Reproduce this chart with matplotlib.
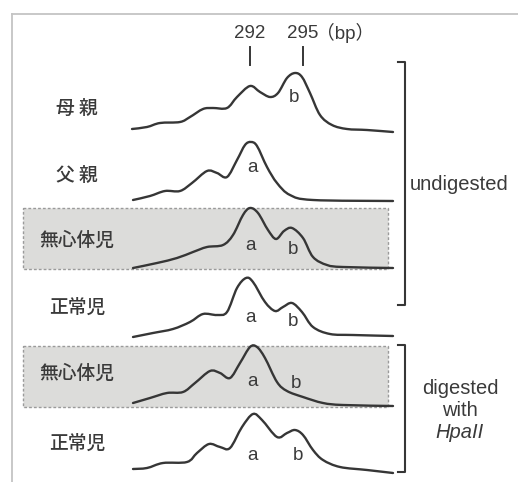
import numpy as np
import matplotlib
matplotlib.use("Agg")
import matplotlib.pyplot as plt
from matplotlib.patches import Rectangle, PathPatch
from matplotlib.path import Path

plt.rcParams['font.family'] = ['Liberation Sans', 'Noto Sans CJK JP', 'DejaVu Sans']

# sample labels (top to bottom)
samples = ['母 親', '父 親', '無心体児', '正常児', '無心体児', '正常児']
shaded = [False, False, True, False, True, False]

# traces: x position and signal height above baseline
x1 = [132, 147, 160, 180, 190, 203, 213, 227, 237, 250, 260, 270, 278, 287, 295, 302, 310, 320, 332, 347, 367, 393]
h1 = [3, 5, 9, 10, 15, 23, 24, 24, 35, 46, 40, 35, 39, 54, 59, 55, 39, 17, 7, 3, 2, 0]

x2 = [133, 150, 165, 180, 192, 207, 217, 227, 237, 245, 251, 257, 267, 277, 290, 313, 393]
h2 = [1, 5, 10, 10, 18, 30, 28, 24, 41, 56, 59, 55, 34, 18, 6, 1, 0]

x3 = [133, 157, 177, 193, 207, 223, 233, 243, 250, 258, 268, 276, 284, 292, 303, 313, 327, 343, 393]
h3 = [0, 5, 10, 16, 21, 23, 33, 53, 60, 55, 38, 29, 37, 40, 30, 11, 3, 1, 0]

x4 = [133, 153, 173, 190, 203, 217, 227, 237, 246, 253, 265, 275, 283, 292, 302, 313, 330, 353, 393]
h4 = [0, 4, 8, 15, 23, 22, 25, 49, 59, 55, 35, 26, 30, 34, 25, 10, 3, 2, 1]

x5 = [133, 150, 167, 183, 195, 210, 220, 230, 240, 250, 257, 265, 277, 287, 303, 323, 343, 393]
h5 = [3, 8, 13, 14, 23, 35, 33, 28, 43, 59, 59, 48, 24, 15, 9, 3, 1, 0]

x6 = [133, 147, 163, 187, 197, 209, 220, 230, 242, 253, 262, 277, 287, 295, 303, 313, 323, 340, 367, 393]
h6 = [4, 5, 10, 11, 20, 29, 26, 25, 46, 59, 53, 36, 40, 43, 38, 23, 13, 6, 3, 0]

traces = [(x1, h1), (x2, h2), (x3, h3), (x4, h4), (x5, h5), (x6, h6)]

# peak labels (a / b) per trace: (letter, x, height above baseline)
peak_labels = [
    [('b', 294, 35)],
    [('a', 252, 34)],
    [('a', 250, 22), ('b', 293, 18)],
    [('a', 250, 19), ('b', 293, 15)],
    [('a', 252, 24), ('b', 296, 23)],
    [('a', 252, 18), ('b', 298, 18)],
]

marker_bp = ['292', '295']
marker_x = [250, 303]

# layout (pixel coordinates)
baselines = [132, 201, 268, 337, 406, 473]
label_y = [108, 175, 240, 307, 373, 443]

fig = plt.figure(figsize=(5.18, 4.82), dpi=100)
ax = fig.add_axes([0, 0, 1, 1])
ax.set_xlim(0, 518)
ax.set_ylim(482, 0)
ax.axis('off')

line_c = '#363636'
text_c = '#3a3a3a'


def smooth_path(xs, ys):
    # catmull-rom through the read points, drawn as cubic bezier segments
    p = np.column_stack([xs, ys]).astype(float)
    p = np.vstack([p[0], p, p[-1]])
    verts = [p[1]]
    codes = [Path.MOVETO]
    for i in range(1, len(p) - 2):
        c1 = p[i] + (p[i + 1] - p[i - 1]) / 6
        c2 = p[i + 1] - (p[i + 2] - p[i]) / 6
        verts += [c1, c2, p[i + 1]]
        codes += [Path.CURVE4] * 3
    return Path(verts, codes)


# outer frame (top and left only)
ax.plot([12, 518], [14, 14], color='#c4c4c4', lw=1.3)
ax.plot([12, 12], [14, 482], color='#c4c4c4', lw=1.3)

# shaded boxes
for i, sh in enumerate(shaded):
    if sh:
        top = baselines[i] - 60
        bot = baselines[i] + 1
        ax.add_patch(Rectangle((23, top), 365, bot - top, facecolor='#dcdcda',
                               edgecolor='#9a9a9a', lw=1.0, ls=(0, (2, 1.5)), zorder=1))

# traces
for i, (xs, hs) in enumerate(traces):
    ys = baselines[i] - np.array(hs)
    ax.add_patch(PathPatch(smooth_path(xs, ys), facecolor='none', edgecolor=line_c,
                           lw=1.7, capstyle='round', joinstyle='round', zorder=3))
    for letter, px, dy in peak_labels[i]:
        ax.text(px, baselines[i] - dy, letter, fontsize=13.5, ha='center', va='center',
                color=text_c, zorder=4)
    ax.text(77, label_y[i], samples[i], fontsize=13.5, ha='center', va='center',
            color='#3a3a3a', family=['Noto Sans CJK JP', 'DejaVu Sans'],
            fontweight='medium', zorder=4)

# size markers
for lab, mx in zip(marker_bp, marker_x):
    ax.plot([mx, mx], [47, 65], color=line_c, lw=1.4)
    ax.text(mx, 33, lab, fontsize=13.5, ha='center', va='center', color=text_c)
ax.text(316, 33, '（bp）', fontsize=13.5, ha='left', va='center', color=text_c)


# brackets
def bracket(y0, y1):
    ax.plot([398, 405, 405, 398], [y0, y0, y1, y1], color=line_c, lw=1.5)


bracket(62, 305)
bracket(345, 472)
ax.text(410, 185, 'undigested', fontsize=14.5, ha='left', va='center', color=text_c)
ax.text(460, 388, 'digested', fontsize=14.5, ha='center', va='center', color=text_c)
ax.text(460, 410, 'with', fontsize=14.5, ha='center', va='center', color=text_c)
ax.text(460, 433, 'HpaII', fontsize=14.5, ha='center', va='center', color=text_c, style='italic')

fig.savefig('out.png', dpi=100)
